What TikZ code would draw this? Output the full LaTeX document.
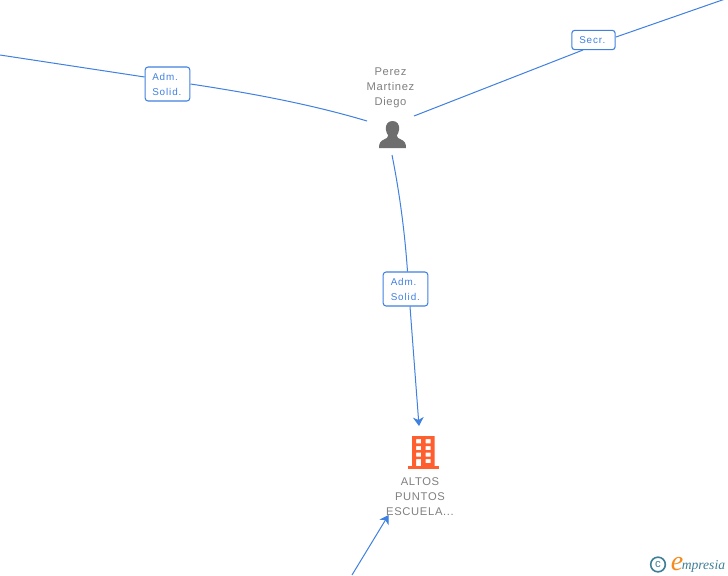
\documentclass[tikz,border=0pt]{standalone}
\usepackage{fontspec}
\setmainfont{Liberation Sans}
\newfontfamily\lblfont[LetterSpace=9]{Liberation Sans}
\newfontfamily\namefont[LetterSpace=6]{Liberation Sans}
\newfontfamily\logofont{Liberation Serif}
\usetikzlibrary{arrows.meta}
\definecolor{edgeblue}{HTML}{4080E0}
\definecolor{txtgray}{HTML}{808080}
\definecolor{icongray}{HTML}{6E6E6E}
\definecolor{bldorange}{HTML}{FF5E2E}
\definecolor{logoteal}{HTML}{3F7F96}
\definecolor{logoorange}{HTML}{F58A1F}
\tikzset{
  conn/.style={draw=edgeblue,line width=0.75pt},
  connarrow/.style={conn,-{Stealth[length=6.5pt,width=8pt,inset=2pt]}},
  rolebox/.style={draw=edgeblue,line width=0.8pt,rounded corners=2.2pt,fill=white,inner sep=0pt},
  roletext/.style={font=\lblfont\fontsize{7.4pt}{11.2pt}\selectfont,text=edgeblue,align=left,inner sep=0pt,anchor=west},
  nametext/.style={font=\namefont\fontsize{8.4pt}{11.25pt}\selectfont,text=txtgray,align=center,inner sep=0pt},
}
\begin{document}
\begin{tikzpicture}[x=0.75pt,y=-0.75pt]
\useasboundingbox (0,0) rectangle (728,575);
\fill[white] (0,0) rectangle (728,575);
% free ends
\coordinate (leftEnd) at (0,55);
\coordinate (leftNear) at (367,121);
\coordinate (rightEnd) at (728,-2);
\coordinate (rightNear) at (414,116);
\coordinate (downStart) at (392,155);
\coordinate (downEnd) at (419,426);
\coordinate (botStart) at (352,575);
\coordinate (botEnd) at (388.5,515);
% label boxes
\node[rolebox,minimum width=33.5pt,minimum height=25.5pt] (admA) at (167.5,84) {};
\node[roletext] (admAt) at (152,84.5) {Adm.\\Solid.};
\node[rolebox,minimum width=32.5pt,minimum height=14.5pt] (secr) at (593.5,40) {};
\node[roletext] (secrt) at (579,40.5) {Secr.};
\node[rolebox,minimum width=33.5pt,minimum height=25.5pt] (admB) at (405.5,289) {};
\node[roletext] (admBt) at (390.5,289.5) {Adm.\\Solid.};
% connectors
\draw[conn] (leftEnd) -- (admA.west|-0,77);
\draw[conn] (190.5,84) .. controls (250,93) and (310,104) .. (leftNear);
\draw[conn] (rightEnd) -- (616,37);
\draw[conn] (583,50) -- (rightNear);
\draw[conn] (downStart) .. controls (400,195) and (405,235) .. (407.5,271.5);
\draw[connarrow] (410,306.5) -- (downEnd);
\draw[connarrow] (botStart) -- (botEnd);
% person
\node[nametext] (person) at (390.5,88) {Perez\\Martinez\\Diego};
\fill[icongray] (392.5,121) .. controls (387.5,121) and (385.6,125) .. (385.8,129)
  .. controls (386,132) and (387.2,134) .. (388.2,135.5)
  .. controls (388.2,137.5) and (386.5,138.5) .. (384,139.5)
  .. controls (380.5,141) and (379,143) .. (379,148)
  -- (406,148)
  .. controls (406,143) and (404.5,141) .. (401,139.5)
  .. controls (398.5,138.5) and (396.8,137.5) .. (396.8,135.5)
  .. controls (397.8,134) and (399,132) .. (399.2,129)
  .. controls (399.4,125) and (397.5,121) .. (392.5,121) -- cycle;
% building
\fill[bldorange,even odd rule] (412,436) rectangle (434.5,466)
  (416,439) rectangle (421,443.3) (425.7,439) rectangle (430.5,443.3)
  (416,446) rectangle (421,450) (425.7,446) rectangle (430.5,450)
  (416,452.5) rectangle (421,456.5) (425.7,452.5) rectangle (430.5,456.5)
  (416,459) rectangle (421,466) (425.7,459) rectangle (430.5,463);
\fill[bldorange] (407.5,466) rectangle (439,468.5);
\node[nametext] (company) at (420,496.5) {ALTOS\\PUNTOS\\ESCUELA...};
% logo
\node[draw=logoteal,line width=1.2pt,circle,minimum size=11pt,inner sep=0pt,
  font=\fontsize{8.5pt}{8.5pt}\selectfont,text=logoteal] (copy) at (658,564.5) {c};
\node[inner sep=0pt,anchor=base west,font=\logofont\itshape\fontsize{21pt}{21pt}\selectfont,text=logoorange] (logoE) at (670.5,570) {e};
\node[inner sep=0pt,anchor=base west,font=\logofont\itshape\fontsize{10.2pt}{11pt}\selectfont,text=logoteal] (logoW) at (681.5,569) {mpresia};
\end{tikzpicture}
\end{document}
